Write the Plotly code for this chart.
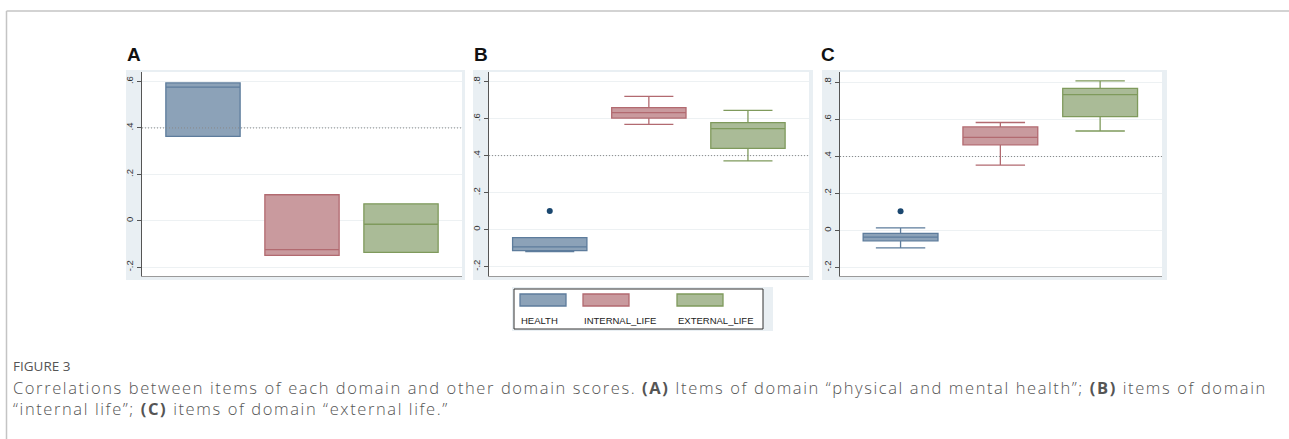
import plotly.graph_objects as go

# Domain names (box order within each panel)
domains = ["HEALTH", "INTERNAL_LIFE", "EXTERNAL_LIFE"]
positions = [1, 2, 3]

# Panel A: items of domain "physical and mental health"
a_q1 = [0.364, -0.149, -0.136]
a_median = [0.576, -0.124, -0.015]
a_q3 = [0.594, 0.112, 0.073]
a_low = [0.364, -0.149, -0.136]
a_high = [0.594, 0.112, 0.073]
a_outliers = [[], [], []]

# Panel B: items of domain "internal life"
b_q1 = [-0.114, 0.603, 0.439]
b_median = [-0.094, 0.632, 0.546]
b_q3 = [-0.043, 0.659, 0.578]
b_low = [-0.119, 0.569, 0.371]
b_high = [-0.043, 0.720, 0.645]
b_outliers = [[0.100], [], []]

# Panel C: items of domain "external life"
c_q1 = [-0.056, 0.463, 0.616]
c_median = [-0.036, 0.503, 0.735]
c_q3 = [-0.016, 0.560, 0.768]
c_low = [-0.094, 0.353, 0.538]
c_high = [0.014, 0.584, 0.809]
c_outliers = [[0.104], [], []]

panel_letters = ["A", "B", "C"]
a_ticks = [-0.2, 0, 0.2, 0.4, 0.6]
a_tick_text = ["-.2", "0", ".2", ".4", ".6"]
bc_ticks = [-0.2, 0, 0.2, 0.4, 0.6, 0.8]
bc_tick_text = ["-.2", "0", ".2", ".4", ".6", ".8"]
ref_line = 0.4

W, H = 1289, 439
fills = ["#8ca2b8", "#c99a9e", "#aabb97"]
edges = ["#5d7c9c", "#b26a70", "#7f9a5c"]
outlier_color = "#1a476f"
frame_bg = "#e9eff3"

panels = [
    dict(q1=a_q1, med=a_median, q3=a_q3, lo=a_low, hi=a_high, out=a_outliers,
         ticks=a_ticks, text=a_tick_text, yr=[-0.238, 0.641], xr=[0.384, 3.616],
         px=(142, 462), py=(72, 276), frame=(126, 465, 70, 280), letter_x=134),
    dict(q1=b_q1, med=b_median, q3=b_q3, lo=b_low, hi=b_high, out=b_outliers,
         ticks=bc_ticks, text=bc_tick_text, yr=[-0.251, 0.852], xr=[0.387, 3.616],
         px=(489, 809), py=(72, 276), frame=(473, 813, 70, 280), letter_x=481),
    dict(q1=c_q1, med=c_median, q3=c_q3, lo=c_low, hi=c_high, out=c_outliers,
         ticks=bc_ticks, text=bc_tick_text, yr=[-0.246, 0.857], xr=[0.393, 3.62],
         px=(840, 1162), py=(72, 276), frame=(822, 1167, 70, 280), letter_x=828),
]


def fx(px):
    return px / W


def fy(py):
    return 1 - py / H


fig = go.Figure()
shapes = []
annotations = []
layout_axes = {}

for i, p in enumerate(panels):
    n = "" if i == 0 else str(i + 1)
    xa, ya = "x" + n, "y" + n
    for j, name in enumerate(domains):
        fig.add_trace(go.Box(
            x=[positions[j]], q1=[p["q1"][j]], median=[p["med"][j]], q3=[p["q3"][j]],
            lowerfence=[p["lo"][j]], upperfence=[p["hi"][j]],
            width=0.75, whiskerwidth=0.66, boxpoints=False,
            fillcolor=fills[j], line=dict(color=edges[j], width=1.3),
            name=name, showlegend=False, hoverinfo="skip",
            xaxis=xa, yaxis=ya,
        ))
        if p["out"][j]:
            fig.add_trace(go.Scatter(
                x=[positions[j]] * len(p["out"][j]), y=p["out"][j], mode="markers",
                marker=dict(color=outlier_color, size=6), showlegend=False,
                hoverinfo="skip", xaxis=xa, yaxis=ya,
            ))

    x0, x1 = p["px"]
    y0, y1 = p["py"]
    layout_axes["xaxis" + n] = dict(
        domain=[fx(x0), fx(x1)], range=p["xr"], anchor=ya,
        showgrid=False, zeroline=False, showticklabels=False, ticks="",
        showline=True, linecolor="#9a9a9a", linewidth=1,
    )
    layout_axes["yaxis" + n] = dict(
        domain=[fy(y1), fy(y0)], range=p["yr"], anchor=xa,
        tickvals=p["ticks"], ticktext=p["text"], tickangle=-90,
        ticks="outside", ticklen=4, tickcolor="#555", tickwidth=1,
        tickfont=dict(family="Liberation Sans, Arial", size=9.5, color="#333"),
        showgrid=True, gridcolor="#edf1f3", gridwidth=1, zeroline=False,
        showline=True, linecolor="#555", linewidth=1,
    )

    fl, fr, ft, fb = p["frame"]
    shapes.append(dict(type="rect", xref="paper", yref="paper", layer="below",
                       x0=fx(fl), x1=fx(fr), y0=fy(fb), y1=fy(ft),
                       fillcolor=frame_bg, line=dict(width=0)))
    shapes.append(dict(type="rect", xref="paper", yref="paper", layer="below",
                       x0=fx(x0), x1=fx(x1), y0=fy(y1), y1=fy(y0),
                       fillcolor="white", line=dict(width=0)))
    # dotted reference line
    shapes.append(dict(type="line", xref=xa + " domain", yref=ya, layer="above",
                       x0=0, x1=1, y0=ref_line, y1=ref_line,
                       line=dict(color="#8a8a8a", width=1, dash="1px,2px")))
    annotations.append(dict(text="<b>" + panel_letters[i] + "</b>", xref="paper", yref="paper",
                            x=fx(p["letter_x"]), y=fy(55), xanchor="center", yanchor="middle",
                            showarrow=False,
                            font=dict(family="Liberation Sans, Arial", size=19, color="#111")))

# Outer figure frame (top and left rules)
shapes.append(dict(type="line", xref="paper", yref="paper", x0=fx(6.5), x1=1.0,
                   y0=fy(11), y1=fy(11), line=dict(color="#c4c4c4", width=1.5)))
shapes.append(dict(type="line", xref="paper", yref="paper", x0=fx(6.5), x1=fx(6.5),
                   y0=fy(11), y1=0, line=dict(color="#c4c4c4", width=1.5)))

# Shared legend drawn under panel B
shapes.append(dict(type="rect", xref="paper", yref="paper", x0=fx(512), x1=fx(773),
                   y0=fy(331), y1=fy(287), fillcolor=frame_bg, line=dict(width=0)))
shapes.append(dict(type="rect", xref="paper", yref="paper", x0=fx(514), x1=fx(763),
                   y0=fy(329), y1=fy(289), fillcolor="white", line=dict(color="#333", width=1)))
legend_x = [520, 583, 677]
for j, name in enumerate(domains):
    shapes.append(dict(type="rect", xref="paper", yref="paper",
                       x0=fx(legend_x[j]), x1=fx(legend_x[j] + 46), y0=fy(306), y1=fy(294),
                       fillcolor=fills[j], line=dict(color=edges[j], width=1.3)))
    annotations.append(dict(text=name, xref="paper", yref="paper", x=fx(legend_x[j] - 1), y=fy(320),
                            xanchor="left", yanchor="middle", showarrow=False,
                            font=dict(family="Liberation Sans, Arial", size=9.5, color="#222")))

# Caption
annotations.append(dict(text="FIGURE 3", xref="paper", yref="paper", x=fx(11), y=fy(366),
                        xanchor="left", yanchor="middle", showarrow=False,
                        font=dict(family="Open Sans", size=13.5, color="#555")))
spaced = '<span style="letter-spacing:1.6px">{}</span>'
caption_lines = [
    spaced.format("Correlations between items of each domain and other domain scores. ")
    + "<b>" + spaced.format("(A)") + "</b>"
    + spaced.format(" Items of domain \u201cphysical and mental health\u201d; ")
    + "<b>" + spaced.format("(B)") + "</b>"
    + spaced.format(" items of domain"),
    spaced.format("\u201cinternal life\u201d; ")
    + "<b>" + spaced.format("(C)") + "</b>"
    + spaced.format(" items of domain \u201cexternal life.\u201d"),
]
annotations.append(dict(text="<br>".join(caption_lines), xref="paper", yref="paper",
                        x=fx(11), y=fy(397.5), xanchor="left", yanchor="middle", align="left",
                        showarrow=False,
                        font=dict(family="Open Sans", size=16.5, color="#555", weight=300)))

fig.update_layout(
    width=W, height=H, margin=dict(l=0, r=0, t=0, b=0),
    paper_bgcolor="white", plot_bgcolor="rgba(0,0,0,0)",
    boxmode="overlay", showlegend=False,
    shapes=shapes, annotations=annotations,
    **layout_axes,
)

fig.write_html("out.html")
